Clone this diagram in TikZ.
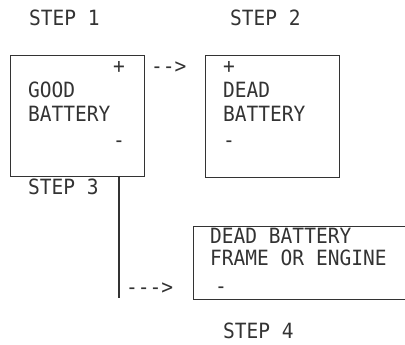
\documentclass[tikz,border=0pt]{standalone}
\usepackage{fontspec}
\setmonofont[FakeStretch=0.93]{DejaVu Sans Mono}
\tikzset{
  battery box/.style={draw=black!80, line width=1.1pt, inner sep=0pt, anchor=north west},
  label/.style={anchor=base west, inner sep=0pt, text=black!80, font=\ttfamily\fontsize{21}{24}\selectfont},
  lead/.style={draw=black!80, line width=1.1pt},
}
\begin{document}
\begin{tikzpicture}[x=1pt, y=-1pt]
  \useasboundingbox (0,0) rectangle (405,345);
  % step 1
  \node[label] (step1) at (29,26) {STEP 1};
  \node[battery box, minimum width=134pt, minimum height=121pt] (good) at (10,55) {};
  \node[label] (goodplus)  at (113,74)  {+};
  \node[label] (goodtxt)   at (28,98)   {GOOD};
  \node[label] (goodtxt2)  at (28,122)  {BATTERY};
  \node[label] (goodminus) at (113,148) {-};
  % step 2
  \node[label] (step2) at (230,26) {STEP 2};
  \node[label] (arrow12) at (151,74) {-{}-{}>};
  \node[battery box, minimum width=134pt, minimum height=122pt] (dead) at (205,55) {};
  \node[label] (deadplus)  at (223,74)  {+};
  \node[label] (deadtxt)   at (223,98)  {DEAD};
  \node[label] (deadtxt2)  at (223,122) {BATTERY};
  \node[label] (deadminus) at (223,148) {-};
  % step 3
  \node[label] (step3) at (28,194) {STEP 3};
  \coordinate (tap) at (119,176);
  \coordinate (tapend) at (119,298);
  \draw[lead] (tap) -- (tapend);
  \node[label] (arrow34) at (126,294) {-{}-{}-{}>};
  % step 4
  \node[battery box, minimum width=230pt, minimum height=73pt] (frame) at (193,226) {};
  \node[label] (frametxt)   at (210,243) {DEAD BATTERY};
  \node[label] (frametxt2)  at (210,265) {FRAME OR ENGINE};
  \node[label] (frameminus) at (215,293) {-};
  \node[label] (step4) at (223,338) {STEP 4};
\end{tikzpicture}
\end{document}
